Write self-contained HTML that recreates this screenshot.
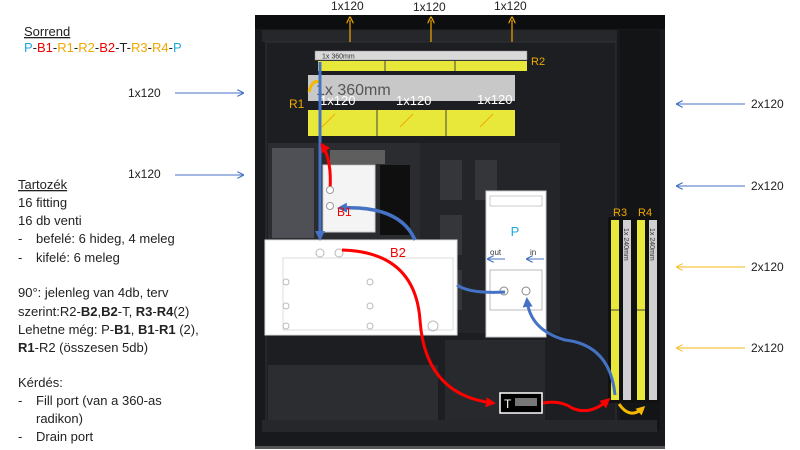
<!DOCTYPE html>
<html><head><meta charset="utf-8"><style>
html,body{margin:0;padding:0;background:#fff;}
svg{display:block;font-family:"Liberation Sans",sans-serif;}
</style></head><body>
<svg width="800" height="450" viewBox="0 0 800 450" xmlns="http://www.w3.org/2000/svg">
<defs>
<marker id="ar" markerWidth="10" markerHeight="10" refX="7" refY="5" orient="auto" markerUnits="userSpaceOnUse"><path d="M0,0 L10,5 L0,10 z" fill="#f00"/></marker>
<marker id="abl" markerWidth="10" markerHeight="10" refX="7" refY="5" orient="auto" markerUnits="userSpaceOnUse"><path d="M0,0 L10,5 L0,10 z" fill="#4472c4"/></marker>
<marker id="ao" markerWidth="9" markerHeight="9" refX="6" refY="4.5" orient="auto" markerUnits="userSpaceOnUse"><path d="M0,0 L9,4.5 L0,9 z" fill="#f5b800"/></marker>
<marker id="ot" markerWidth="7" markerHeight="7" refX="3.5" refY="3.5" orient="auto" markerUnits="userSpaceOnUse"><path d="M0,0 L7,3.5 L0,7" fill="none" stroke="#f0a800" stroke-width="1.2"/></marker>
<marker id="bt" markerWidth="7" markerHeight="7" refX="6" refY="3.5" orient="auto" markerUnits="userSpaceOnUse"><path d="M0,0 L7,3.5 L0,7" fill="none" stroke="#4472c4" stroke-width="1.2"/></marker>
<marker id="yt" markerWidth="7" markerHeight="7" refX="6" refY="3.5" orient="auto" markerUnits="userSpaceOnUse"><path d="M0,0 L7,3.5 L0,7" fill="none" stroke="#f5c542" stroke-width="1.2"/></marker>
</defs>

<!-- case -->
<rect x="255" y="15" width="410" height="434" fill="#18191c"/>
<rect x="255" y="15" width="410" height="14" fill="#0d0e10"/>
<rect x="262" y="30" width="355" height="12" fill="#26272b"/>
<rect x="620" y="30" width="40" height="400" fill="#131416"/>
<rect x="266" y="42" width="350" height="380" fill="#1d1e21" stroke="#303236"/>
<rect x="420" y="143" width="140" height="190" fill="#242528"/>
<rect x="440" y="160" width="22" height="40" fill="#35363a"/>
<rect x="475" y="160" width="22" height="40" fill="#35363a"/>
<rect x="440" y="215" width="22" height="40" fill="#35363a"/>
<rect x="440" y="270" width="22" height="40" fill="#35363a"/>
<rect x="268" y="365" width="170" height="55" fill="#2c2d31"/>
<rect x="445" y="340" width="100" height="80" fill="#28292d"/>
<rect x="262" y="420" width="395" height="12" fill="#26272b"/>
<rect x="255" y="446" width="410" height="3" fill="#555"/>

<!-- motherboard -->
<rect x="268" y="143" width="152" height="97" fill="#2b2c30"/>
<rect x="272" y="148" width="42" height="90" fill="#4f5055"/>
<rect x="330" y="150" width="55" height="14" fill="#5e5e5e"/>
<rect x="380" y="165" width="30" height="70" fill="#0f0f0f"/>
<rect x="323" y="165" width="52" height="67" fill="#f4f4f4" stroke="#ccc"/>

<!-- GPU -->
<rect x="265" y="240" width="192" height="95" fill="#fff" stroke="#ddd"/>
<rect x="283" y="258" width="170" height="72" fill="none" stroke="#ddd"/>
<g fill="none" stroke="#bbb"><circle cx="320" cy="253" r="4"/><circle cx="339" cy="253" r="4"/><circle cx="286" cy="282" r="3"/><circle cx="286" cy="306" r="3"/><circle cx="286" cy="326" r="3"/><circle cx="370" cy="282" r="3"/><circle cx="370" cy="306" r="3"/><circle cx="370" cy="326" r="3"/><circle cx="433" cy="326" r="5"/></g>

<!-- pump -->
<rect x="486" y="191" width="60" height="146" fill="#fff" stroke="#ccc"/>
<rect x="490" y="196" width="52" height="10" fill="none" stroke="#ccc"/>
<rect x="490" y="270" width="52" height="40" fill="none" stroke="#bbb"/>
<text x="515" y="236" font-size="13" fill="#1fa8e0" text-anchor="middle">P</text>
<text x="490" y="255" font-size="8" fill="#333">out</text>
<text x="530" y="255" font-size="8" fill="#333">in</text>
<line x1="505" y1="259" x2="488" y2="259" stroke="#4472c4" stroke-width="1" marker-end="url(#bt)"/>
<line x1="544" y1="259" x2="527" y2="259" stroke="#4472c4" stroke-width="1" marker-end="url(#bt)"/>
<circle cx="504" cy="291" r="4" fill="none" stroke="#888"/>
<circle cx="526" cy="291" r="4" fill="none" stroke="#888"/>

<!-- R2 -->
<rect x="315" y="51" width="212" height="9" fill="#d9d9d9" stroke="#888" stroke-width="0.5"/>
<text x="322" y="58.5" font-size="7" fill="#333">1x 360mm</text>
<rect x="318" y="61" width="209" height="10" fill="#e8e83a"/>
<line x1="385" y1="61" x2="385" y2="71" stroke="#444"/><line x1="455" y1="61" x2="455" y2="71" stroke="#444"/>
<text x="531" y="65" font-size="11" fill="#f0a800">R2</text>

<!-- R1 -->
<rect x="308" y="75" width="207" height="26" fill="#c8c8c8"/>
<text x="316" y="95" font-size="16" fill="#555">1x 360mm</text>
<rect x="308" y="110" width="207" height="26" fill="#e8e83a"/>
<line x1="377" y1="110" x2="377" y2="136" stroke="#444"/><line x1="446" y1="110" x2="446" y2="136" stroke="#444"/>
<text x="289" y="108" font-size="12" fill="#f0a800">R1</text>
<g font-size="13" fill="#fff"><text x="320" y="105">1x120</text><text x="396" y="105">1x120</text><text x="477" y="104">1x120</text></g>
<g stroke="#f0a800" stroke-width="1"><line x1="322" y1="127" x2="335" y2="114"/><line x1="400" y1="127" x2="413" y2="114"/><line x1="480" y1="127" x2="493" y2="114"/></g>
<path d="M309,92 Q312,79 320,82" fill="none" stroke="#f5b800" stroke-width="3"/>

<!-- R3 R4 -->
<rect x="608" y="217" width="52" height="186" fill="#111"/>
<rect x="611" y="220" width="8" height="180" fill="#e8e83a"/>
<rect x="623" y="220" width="8" height="180" fill="#d0d0d0"/>
<rect x="637" y="220" width="8" height="180" fill="#e8e83a"/>
<rect x="649" y="220" width="8" height="180" fill="#d0d0d0"/>
<line x1="611" y1="310" x2="619" y2="310" stroke="#444"/><line x1="637" y1="310" x2="645" y2="310" stroke="#444"/>
<text transform="translate(624,228) rotate(90)" font-size="7" fill="#333">1x 240mm</text>
<text transform="translate(650,228) rotate(90)" font-size="7" fill="#333">1x 240mm</text>
<text x="613" y="216" font-size="11" fill="#f0a800">R3</text>
<text x="638" y="216" font-size="11" fill="#f0a800">R4</text>

<!-- T -->
<rect x="500" y="393" width="42" height="20" fill="#000" stroke="#fff" stroke-width="1.5"/>
<text x="504" y="408" font-size="12" fill="#fff">T</text>
<rect x="515" y="398" width="22" height="8" fill="#777"/>

<!-- connectors -->
<line x1="320" y1="62" x2="320" y2="238" stroke="#4472c4" stroke-width="3" marker-end="url(#abl)"/>
<path d="M330,190 Q332,160 322,145" fill="none" stroke="#f00" stroke-width="3" marker-end="url(#ar)"/>
<path d="M415,240 Q400,205 340,208" fill="none" stroke="#4472c4" stroke-width="3.5" marker-end="url(#abl)"/>
<text x="337" y="216" font-size="12" fill="#e00">B1</text>
<circle cx="330" cy="190" r="3.5" fill="#fff" stroke="#999"/><circle cx="330" cy="206" r="3.5" fill="#fff" stroke="#999"/>
<text x="390" y="257" font-size="13" fill="#e00">B2</text>
<path d="M342,250 Q415,252 420,320 Q425,395 493,403" fill="none" stroke="#f00" stroke-width="3" marker-end="url(#ar)"/>
<path d="M457,285 Q470,294 505,292" fill="none" stroke="#4472c4" stroke-width="3"/>
<path d="M615,395 Q610,345 565,340 Q530,330 527,300" fill="none" stroke="#4472c4" stroke-width="3" marker-end="url(#abl)"/>
<path d="M543,403 Q560,400 572,408 Q590,416 608,400" fill="none" stroke="#f00" stroke-width="3" marker-end="url(#ar)"/>
<path d="M619,404 Q630,420 643,408" fill="none" stroke="#f5b800" stroke-width="3" marker-end="url(#ao)"/>

<!-- top labels -->
<g font-size="12" fill="#222"><text x="331" y="10">1x120</text><text x="413" y="11">1x120</text><text x="494" y="10">1x120</text></g>
<g stroke="#f0a800" stroke-width="1.2"><line x1="350" y1="42" x2="350" y2="20" marker-end="url(#ot)"/><line x1="431" y1="42" x2="431" y2="20" marker-end="url(#ot)"/><line x1="512" y1="42" x2="512" y2="20" marker-end="url(#ot)"/></g>

<!-- left labels -->
<g font-size="12" fill="#222"><text x="128" y="97">1x120</text><text x="128" y="178">1x120</text></g>
<line x1="175" y1="93" x2="243" y2="93" stroke="#4472c4" stroke-width="1" marker-end="url(#bt)"/>
<line x1="175" y1="175" x2="243" y2="175" stroke="#4472c4" stroke-width="1" marker-end="url(#bt)"/>

<!-- right labels -->
<g font-size="12" fill="#222"><text x="751" y="108">2x120</text><text x="751" y="190">2x120</text><text x="751" y="271">2x120</text><text x="751" y="352">2x120</text></g>
<line x1="745" y1="104" x2="677" y2="104" stroke="#4472c4" stroke-width="1" marker-end="url(#bt)"/>
<line x1="745" y1="186" x2="677" y2="186" stroke="#4472c4" stroke-width="1" marker-end="url(#bt)"/>
<line x1="745" y1="267" x2="677" y2="267" stroke="#f5c542" stroke-width="1.2" marker-end="url(#yt)"/>
<line x1="745" y1="348" x2="677" y2="348" stroke="#f5c542" stroke-width="1.2" marker-end="url(#yt)"/>

<!-- left text -->
<g font-size="13" fill="#222">
<text x="24" y="36" text-decoration="underline">Sorrend</text>
<text x="24" y="52"><tspan fill="#1fa8e0">P</tspan>-<tspan fill="#e00">B1</tspan>-<tspan fill="#f0a800">R1</tspan>-<tspan fill="#f0a800">R2</tspan>-<tspan fill="#e00">B2</tspan>-T-<tspan fill="#f0a800">R3</tspan>-<tspan fill="#f0a800">R4</tspan>-<tspan fill="#1fa8e0">P</tspan></text>
<text x="18" y="189" text-decoration="underline">Tartozék</text>
<text x="18" y="207">16 fitting</text>
<text x="18" y="225">16 db venti</text>
<text x="18" y="243">-</text><text x="36" y="243">befelé: 6 hideg, 4 meleg</text>
<text x="18" y="262">-</text><text x="36" y="262">kifelé: 6 meleg</text>
<text x="18" y="297">90°: jelenleg van 4db, terv</text>
<text x="18" y="316">szerint:R2-<tspan font-weight="bold">B2</tspan>,<tspan font-weight="bold">B2</tspan>-T, <tspan font-weight="bold">R3</tspan>-<tspan font-weight="bold">R4</tspan>(2)</text>
<text x="18" y="334">Lehetne még: P-<tspan font-weight="bold">B1</tspan>, <tspan font-weight="bold">B1</tspan>-<tspan font-weight="bold">R1</tspan> (2),</text>
<text x="18" y="352"><tspan font-weight="bold">R1</tspan>-R2 (összesen 5db)</text>
<text x="18" y="387">Kérdés:</text>
<text x="18" y="405">-</text><text x="36" y="405">Fill port (van a 360-as</text>
<text x="36" y="423">radikon)</text>
<text x="18" y="441">-</text><text x="36" y="441">Drain port</text>
</g>
</svg>
</body></html>
